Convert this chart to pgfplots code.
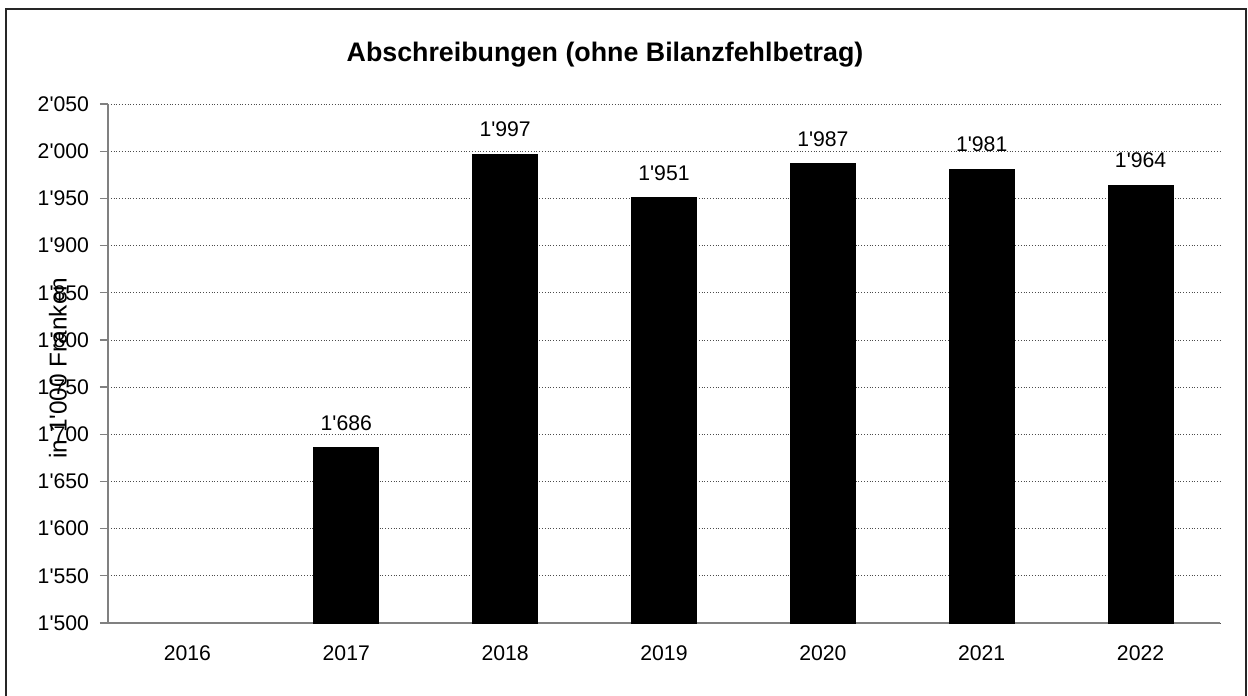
\documentclass[border=0pt]{standalone}
\usepackage{fontspec}
\setmainfont{Liberation Sans}
\usepackage{pgfplots}
\pgfplotsset{compat=1.18}

\begin{document}
\begin{tikzpicture}[x=0.5pt,y=0.5pt]
\useasboundingbox (0,0) rectangle (1248,696);
% outer frame (bottom edge lies below the image)
\draw[line width=1pt,black!85] (6,0) -- (6,687) -- (1246,687) -- (1246,0);
\node[font=\bfseries\fontsize{13.4}{15}\selectfont] at (605,641) {Abschreibungen (ohne Bilanzfehlbetrag)};
\begin{axis}[
    at={(54pt,36.5pt)}, anchor=south west,
    scale only axis, width=556pt, height=259.5pt,
    ybar, bar width=32.5pt,
    xmin=-0.5, xmax=6.5,
    ymin=1500, ymax=2050, ytick distance=50,
    xtick={0,...,6},
    xticklabels={2016,2017,2018,2019,2020,2021,2022},
    major x tick style={draw=none},
    axis lines*=left,
    axis line style={gray, line width=0.6pt},
    y axis line style={-},
    x axis line style={-},
    ytick style={gray, line width=0.6pt},
    tick align=outside, major tick length=4pt,
    ymajorgrids, major grid style={black!70, densely dotted, line width=0.4pt},
    tick label style={font=\fontsize{10.6}{12}\selectfont},
    /pgf/number format/assume math mode=true,
    /pgf/number format/1000 sep={\textquotesingle},
    yticklabel style={xshift=-2pt},
    xticklabel style={yshift=-4pt},
    ylabel={in 1\textquotesingle000 Franken},
    every axis y label/.style={at={(axis description cs:-0.045,0.491)}, rotate=90, anchor=center, font=\fontsize{12.2}{14}\selectfont},
    nodes near coords,
    every node near coord/.append style={font=\fontsize{10.6}{12}\selectfont, yshift=5pt},
    clip=false,
]
\addplot[fill=black, draw=black] coordinates {
  (1,1686) (2,1997) (3,1951) (4,1987) (5,1981) (6,1964)};
\end{axis}
\end{tikzpicture}
\end{document}
